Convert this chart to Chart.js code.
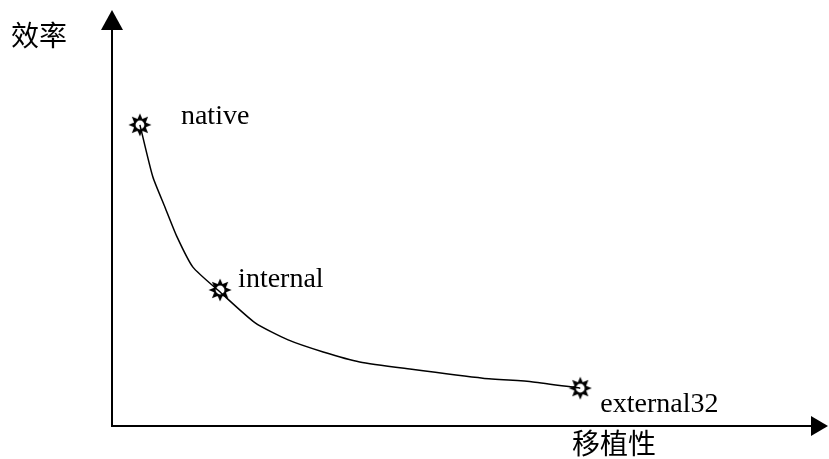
<!DOCTYPE html>
<html>
<head>
<meta charset="utf-8">
<script src="https://cdn.jsdelivr.net/npm/chart.js@4/dist/chart.umd.min.js"></script>
<style>
    html, body { margin: 0; padding: 0; background: #fff; overflow: hidden; }
</style>
</head>
<body>
<canvas id="chart" width="829" height="459"></canvas>
<script>
// courbe efficacité / portabilité (échelle 0-100)
const curveX = [3.9, 5.7, 7.4, 9.1, 11.3, 15.1, 20.0, 24.6, 29.5, 34.6, 41.6, 51.8, 58.8, 65.4];
const curveY = [72.4, 59.9, 52.6, 45.4, 38.2, 32.2, 24.8, 20.7, 17.8, 15.4, 13.7, 11.5, 10.6, 9.1];

const pointNames = ['native', 'internal', 'external32'];
const pointX = [3.9, 15.1, 65.4];
const pointY = [72.4, 32.7, 9.1];

const xTitle = '移植性';
const yTitle = '效率';

// petit soleil pour les points
function makeSun() {
    const c = document.createElement('canvas');
    c.width = 24;
    c.height = 24;
    const g = c.getContext('2d');
    const cx = 12, cy = 12;
    g.fillStyle = '#000';
    for (let i = 0; i < 8; i++) {
        const a = i * Math.PI / 4 - Math.PI / 2;
        const w = 0.45;
        g.beginPath();
        g.moveTo(cx + Math.cos(a) * 11.5, cy + Math.sin(a) * 11.5);
        g.lineTo(cx + Math.cos(a + w) * 6, cy + Math.sin(a + w) * 6);
        g.lineTo(cx + Math.cos(a - w) * 6, cy + Math.sin(a - w) * 6);
        g.closePath();
        g.fill();
    }
    g.beginPath();
    g.arc(cx, cy, 5.5, 0, Math.PI * 2);
    g.fillStyle = '#fff';
    g.fill();
    g.lineWidth = 2.2;
    g.strokeStyle = '#000';
    g.stroke();
    return c;
}

// axes avec flèches + textes
const axesPlugin = {
    id: 'axes',
    afterDatasetsDraw(chart) {
        const ctx = chart.ctx;
        const x = chart.scales.x, y = chart.scales.y;
        const x0 = x.getPixelForValue(0);
        const y0 = y.getPixelForValue(0);
        const xEnd = x.getPixelForValue(100);
        const yEnd = y.getPixelForValue(100);

        ctx.save();
        ctx.strokeStyle = '#000';
        ctx.fillStyle = '#000';
        ctx.lineWidth = 2;
        ctx.beginPath();
        ctx.moveTo(x0, yEnd + 18);
        ctx.lineTo(x0, y0);
        ctx.lineTo(xEnd - 15, y0);
        ctx.stroke();

        ctx.beginPath();
        ctx.moveTo(x0, yEnd);
        ctx.lineTo(x0 - 11, yEnd + 20);
        ctx.lineTo(x0 + 11, yEnd + 20);
        ctx.closePath();
        ctx.fill();

        ctx.beginPath();
        ctx.moveTo(xEnd, y0);
        ctx.lineTo(xEnd - 17, y0 - 10);
        ctx.lineTo(xEnd - 17, y0 + 10);
        ctx.closePath();
        ctx.fill();

        ctx.font = '28px "Noto Sans CJK SC"';
        ctx.textBaseline = 'middle';
        ctx.textAlign = 'left';
        ctx.fillText(yTitle, 11, 35);
        ctx.fillText(xTitle, 572, 443);

        // noms des points
        const meta = chart.getDatasetMeta(1);
        const offsets = [[41, -1], [18, -3], [20, 24]];
        ctx.font = '28px "Liberation Serif"';
        ctx.textBaseline = 'alphabetic';
        meta.data.forEach((pt, i) => {
            ctx.fillText(pointNames[i], pt.x + offsets[i][0], pt.y + offsets[i][1]);
        });
        ctx.restore();
    }
};

new Chart(document.getElementById('chart'), {
    type: 'scatter',
    data: {
        datasets: [{
            data: curveX.map((v, i) => ({ x: v, y: curveY[i] })),
            showLine: true,
            borderColor: '#000',
            borderWidth: 1.5,
            pointRadius: 0,
            tension: 0.2
        }, {
            data: pointX.map((v, i) => ({ x: v, y: pointY[i] })),
            pointStyle: makeSun(),
            pointRadius: 12
        }]
    },
    options: {
        responsive: false,
        animation: false,
        layout: {
            autoPadding: false,
            padding: { left: 112, right: 1, top: 10, bottom: 33 }
        },
        plugins: {
            legend: { display: false },
            tooltip: { enabled: false }
        },
        scales: {
            x: { type: 'linear', min: 0, max: 100, display: false },
            y: { type: 'linear', min: 0, max: 100, display: false }
        }
    },
    plugins: [axesPlugin]
});
</script>
</body>
</html>
